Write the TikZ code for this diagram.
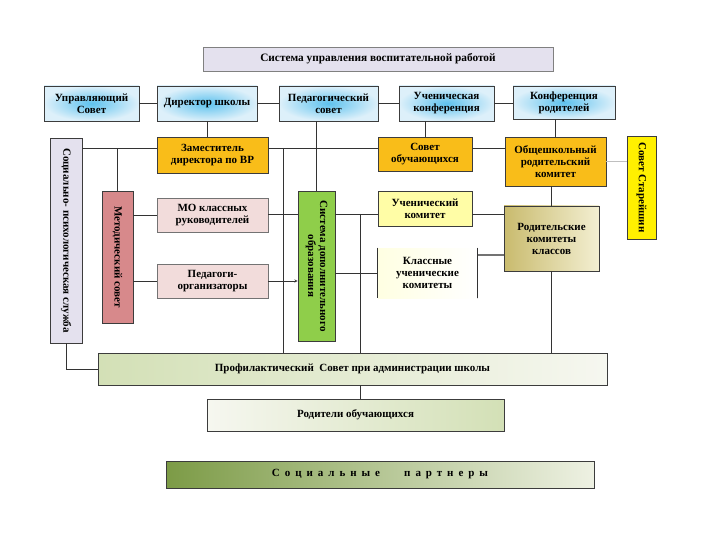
\documentclass[tikz,border=0pt]{standalone}
\usepackage{fontspec}
\setmainfont{Liberation Serif}
\usepackage{xcolor}
\usepackage{tikz}
\usetikzlibrary{calc, shadows}

\definecolor{lavend}{HTML}{E4E1EE}
\definecolor{skyin}{HTML}{5EC2EE}
\definecolor{skyout}{HTML}{DDF0FA}
\definecolor{amber}{HTML}{F9BD19}
\definecolor{lemon}{HTML}{FFF000}
\definecolor{rosy}{HTML}{D7898B}
\definecolor{blush}{HTML}{F2DCDB}
\definecolor{leaf}{HTML}{8FCE4A}
\definecolor{paley}{HTML}{FFFDA6}
\definecolor{cream}{HTML}{FFFFE2}
\definecolor{khakia}{HTML}{C9BB6E}
\definecolor{khakib}{HTML}{F3EFD2}
\definecolor{sagea}{HTML}{D3E0B6}
\definecolor{sageb}{HTML}{F6F7F0}
\definecolor{olivea}{HTML}{7C9B46}
\definecolor{oliveb}{HTML}{EEF1E3}
\definecolor{edge}{HTML}{3C3C3C}

\begin{document}
\begin{tikzpicture}[>=stealth, x=1pt, y=-1pt,
    box/.style={draw=edge, line width=0.6pt, align=center, inner sep=1pt,
        font=\bfseries\fontsize{11}{12}\selectfont,
        drop shadow={shadow xshift=1.2pt, shadow yshift=-1.2pt, opacity=0.25}},
    bluebox/.style={box, inner color=skyin, outer color=skyout},
    vtext/.style={rotate=-90, align=center, font=\bfseries\fontsize{11}{12}\selectfont},
    wire/.style={draw=black!80, line width=0.5pt}]

    \useasboundingbox (0,0) rectangle (720,540);

    % Заголовок
    \node[box, fill=lavend, draw=black!50, minimum width=350, minimum height=24,
        font=\bfseries\fontsize{11.3}{12}\selectfont] (title) at (378,59)
        {Система управления воспитательной работой};

    % Верхний ряд (голубые блоки)
    \node[bluebox, minimum width=95, minimum height=35] (upr) at (91.5,103.5) {Управляющий\\Совет};
    \node[bluebox, minimum width=100, minimum height=35] (dir) at (207,103.5) {Директор школы};
    \node[bluebox, minimum width=99, minimum height=35] (ped) at (328.5,103.5) {Педагогический\\совет};
    \node[bluebox, minimum width=95, minimum height=35] (uchk) at (446.5,103.5) {Ученическая\\конференция};
    \node[bluebox, minimum width=102, minimum height=33] (konf) at (564,102.5) {Конференция\\родителей};

    % Второй ряд
    \node[box, fill=amber, minimum width=111, minimum height=36] (zam) at (212.5,155) {Заместитель\\директора по ВР};
    \node[box, fill=amber, minimum width=94, minimum height=34] (sovob) at (425,154) {Совет\\обучающихся};
    \node[box, fill=amber, minimum width=101, minimum height=49] (obsh) at (555.5,161.5) {Общешкольный\\родительский\\комитет};
    \node[box, fill=lemon, minimum width=29, minimum height=103] (star) at (641.5,187.5) {};
    \node[vtext] (star-t) at (star) {Совет Старейшин};

    % Вертикальные блоки слева
    \node[box, fill=lavend, minimum width=32, minimum height=205] (sps) at (66,240.5) {};
    \node[vtext] (sps-t) at (sps) {Социально- психологическая служба};
    \node[box, fill=rosy, minimum width=31, minimum height=132] (met) at (117.5,257) {};
    \node[vtext] (met-t) at (met) {Методический совет};

    % Средняя часть
    \node[box, fill=blush, draw=black!55, minimum width=111, minimum height=34] (mo) at (212.5,215) {МО классных\\руководителей};
    \node[box, fill=blush, draw=black!55, minimum width=111, minimum height=34] (pedorg) at (212.5,281) {Педагоги-\\организаторы};
    \node[box, fill=leaf, minimum width=37, minimum height=150] (sdo) at (316.5,266) {};
    \node[vtext] (sdo-t) at (sdo) {Система дополнительного\\образования};
    \node[box, fill=paley, minimum width=94, minimum height=35] (uchkom) at (425,208.5) {Ученический\\комитет};
    \node[box, draw=none, left color=cream, right color=white, minimum width=99, minimum height=50,
        drop shadow={opacity=0}] (klass) at (427.5,273) {Классные\\ученические\\комитеты};
    \node[box, left color=khakia, right color=khakib, minimum width=95, minimum height=65] (rodk) at (551.5,238.5) {Родительские\\комитеты\\классов};

    % Нижние блоки
    \node[box, left color=sagea, right color=sageb, minimum width=509, minimum height=32] (prof) at (352.5,369)
        {Профилактический\ \ Совет при администрации школы};
    \node[box, left color=sageb, right color=sagea, minimum width=297, minimum height=32] (rodo) at (355.5,415)
        {Родители обучающихся};
    \node[box, left color=olivea, right color=oliveb, minimum width=428, minimum height=27] (socp) at (380,474.5)
        {\addfontfeatures{LetterSpace=45}Социальные\hspace{2.2em}партнеры};

    % Вспомогательные точки линий
    \coordinate (r2) at (0,148);
    \coordinate (r3) at (0,214);
    \coordinate (r4) at (0,255);
    \coordinate (v1) at (283,148);
    \coordinate (v2) at (360,214);

    % Связи верхнего ряда
    \draw[wire] (upr.east) -- (dir.west);
    \draw[wire] (dir.east) -- (ped.west);
    \draw[wire] (ped.east) -- (uchk.west);
    \draw[wire] (uchk.east) -- (uchk.east -| konf.west);
    \draw[wire] (dir.south) -- (dir.south |- zam.north);
    \draw[wire] (sovob.north) -- (sovob.north |- uchk.south);
    \draw[wire] (obsh.north) -- (obsh.north |- konf.south);
    \draw[wire] (sdo.north) -- (sdo.north |- ped.south);

    % Связи второго ряда
    \draw[wire] (sps.east |- r2) -- (zam.west |- r2);
    \draw[wire] (zam.east |- r2) -- (sovob.west |- r2);
    \draw[wire] (sovob.east |- r2) -- (obsh.west |- r2);
    \draw[draw=black!25, line width=0.5pt] (obsh.east) -- (obsh.east -| star.west);
    \draw[wire] (met.north) -- (met.north |- r2);
    \draw[wire] (v1) -- (v1 |- prof.north);

    % Связи средней части
    \draw[wire] (met.east |- mo.west) -- (mo.west);
    \draw[wire] (met.east |- pedorg.west) -- (pedorg.west);
    \draw[wire] (mo.east |- r3) -- (sdo.west |- r3);
    \draw[wire, ->] (pedorg.east) -- (pedorg.east -| sdo.west);
    \draw[wire] (sdo.east |- r3) -- (uchkom.west |- r3);
    \draw[wire] (sdo.east |- klass.west) -- (klass.west);
    \draw[wire] (v2) -- (v2 |- prof.north);
    \draw[wire] (uchkom.east |- r3) -- (rodk.west |- r3);
    \draw[draw=black!55, line width=1.2pt] (klass.east |- r4) -- (rodk.west |- r4);
    \draw[wire] (klass.north west) -- (klass.south west);
    \draw[wire] (klass.north east) -- (klass.south east);
    \draw[wire] (obsh.south -| rodk.north) -- (rodk.north);
    \draw[wire] (rodk.south) -- (rodk.south |- prof.north);

    % Нижние связи
    \draw[wire] (sps.south) |- (prof.west);
    \draw[wire] (prof.south -| v2) -- (rodo.north -| v2);

\end{tikzpicture}
\end{document}
